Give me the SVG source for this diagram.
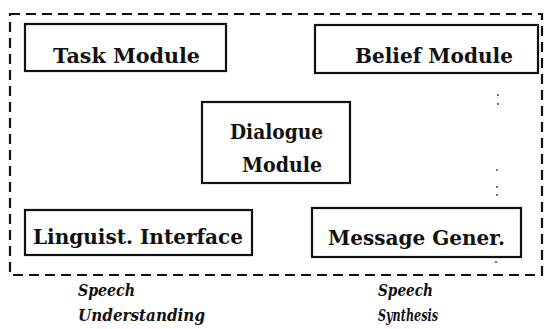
<svg xmlns="http://www.w3.org/2000/svg" width="545" height="329" viewBox="0 0 545 329">
<style>
.box{fill:#fff;stroke:#111;stroke-width:2.2}
.lbl{font-family:"DejaVu Serif","Liberation Serif",serif;font-weight:bold;font-size:20.5px;fill:#111}
.it{font-family:"DejaVu Serif","Liberation Serif",serif;font-weight:bold;font-style:italic;font-size:16px;fill:#111}
.dash{fill:none;stroke:#111;stroke-width:2.2;stroke-dasharray:10 6}
.dot{fill:#333}
</style>
<rect width="545" height="329" fill="#fff"/>
<g id="boundary">
<rect class="dash" x="10" y="14" width="532" height="261"/>
</g>
<g id="connectors">
<circle class="dot" cx="498" cy="95" r="0.9"/>
<circle class="dot" cx="498" cy="104" r="0.9"/>
<circle class="dot" cx="497" cy="170" r="0.9"/>
<circle class="dot" cx="497" cy="187" r="0.9"/>
<circle class="dot" cx="497" cy="195" r="0.9"/>
<circle class="dot" cx="498" cy="215" r="0.9"/>
<circle class="dot" cx="498" cy="223" r="0.9"/>
<circle class="dot" cx="496" cy="229" r="0.9"/>
<circle class="dot" cx="497" cy="253" r="0.9"/>
<circle class="dot" cx="496" cy="262" r="0.9"/>
</g>
<g id="task">
<rect class="box" x="25" y="24" width="201" height="47"/>
<text class="lbl" x="53" y="63" textLength="147" lengthAdjust="spacingAndGlyphs">Task Module</text>
</g>
<g id="belief">
<rect class="box" x="315" y="25" width="223" height="48"/>
<text class="lbl" x="355" y="63" textLength="158" lengthAdjust="spacingAndGlyphs">Belief Module</text>
</g>
<g id="dialogue">
<rect class="box" x="202" y="102" width="148" height="81"/>
<text class="lbl" x="230" y="139" textLength="93" lengthAdjust="spacingAndGlyphs">Dialogue</text>
<text class="lbl" x="242" y="172" textLength="80" lengthAdjust="spacingAndGlyphs">Module</text>
</g>
<g id="linguist">
<rect class="box" x="25" y="210" width="227" height="45"/>
<text class="lbl" x="33" y="244" textLength="210" lengthAdjust="spacingAndGlyphs">Linguist.  Interface</text>
</g>
<g id="message">
<rect class="box" x="312" y="208" width="209" height="49"/>
<text class="lbl" x="328" y="245" textLength="177" lengthAdjust="spacingAndGlyphs">Message Gener.</text>
</g>
<g id="speech-understanding">
<text class="it" x="78" y="296" textLength="57" lengthAdjust="spacingAndGlyphs">Speech</text>
<text class="it" x="78" y="321" textLength="127" lengthAdjust="spacingAndGlyphs">Understanding</text>
</g>
<g id="speech-synthesis">
<text class="it" x="378" y="296" textLength="55" lengthAdjust="spacingAndGlyphs">Speech</text>
<text class="it" x="378" y="321" textLength="60" lengthAdjust="spacingAndGlyphs">Synthesis</text>
</g>
</svg>
